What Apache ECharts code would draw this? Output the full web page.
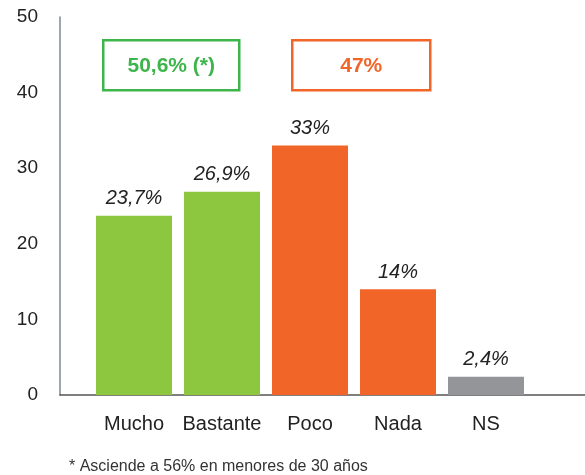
<!DOCTYPE html>
<html>
<head>
<meta charset="utf-8">
<script src="https://cdn.jsdelivr.net/npm/echarts@6/dist/echarts.min.js"></script>
<style>
  html, body { margin: 0; padding: 0; background: #fff; }
  #chart { width: 585px; height: 475px; }
</style>
</head>
<body>
<div id="chart"></div>
<script>
const categories = ['Mucho', 'Bastante', 'Poco', 'Nada', 'NS']
const values = [23.7, 26.9, 33, 14, 2.4]
const valueLabels = ['23,7%', '26,9%', '33%', '14%', '2,4%']
const barColors = ['#8dc63f', '#8dc63f', '#f26529', '#f26529', '#939598']
const yTicks = [0, 10, 20, 30, 40, 50]
const groupTotals = ['50,6% (*)', '47%']
const footnote = '* Asciende a 56% en menores de 30 años'

const font = "'Liberation Sans', Arial, sans-serif"
const chart = echarts.init(document.getElementById('chart'))

chart.setOption({
  backgroundColor: '#fff',
  animation: false,
  textStyle: { fontFamily: font },
  title: {
    text: footnote,
    left: 64,
    top: 454,
    textStyle: { fontSize: 16, fontWeight: 'normal', color: '#333', fontFamily: font }
  },
  grid: [
    { left: 60, right: 0, top: 17, bottom: 80 },
    { left: 90, right: 55, top: 17, bottom: 80 }
  ],
  xAxis: [
    {
      gridIndex: 0,
      type: 'value',
      min: 0,
      max: 1,
      axisLine: { show: true, lineStyle: { color: '#555', width: 1.5 } },
      axisTick: { show: false },
      axisLabel: { show: false },
      splitLine: { show: false }
    },
    {
      gridIndex: 1,
      type: 'category',
      data: categories,
      axisLine: { show: false },
      axisTick: { show: false },
      axisLabel: { interval: 0, margin: 19, fontSize: 20, color: '#222', fontFamily: font }
    }
  ],
  yAxis: [
    {
      gridIndex: 0,
      type: 'value',
      min: yTicks[0],
      max: yTicks[yTicks.length - 1],
      interval: 10,
      axisLine: { show: true, lineStyle: { color: '#7a8896', width: 1.5 } },
      axisTick: { show: false },
      splitLine: { show: false },
      axisLabel: { margin: 22, fontSize: 19, color: '#222', fontFamily: font }
    },
    {
      gridIndex: 1,
      type: 'value',
      min: yTicks[0],
      max: yTicks[yTicks.length - 1],
      show: false,
      splitLine: { show: false }
    }
  ],
  series: [
    {
      type: 'bar',
      xAxisIndex: 1,
      yAxisIndex: 1,
      barWidth: 76,
      data: values.map((v, i) => ({
        value: v,
        itemStyle: { color: barColors[i] },
        label: { formatter: valueLabels[i] }
      })),
      label: {
        show: true,
        position: 'top',
        distance: 7,
        fontSize: 20,
        fontStyle: 'italic',
        color: '#222',
        fontFamily: font
      }
    }
  ],
  graphic: [
    {
      type: 'group',
      left: 102,
      top: 39,
      children: [
        { type: 'rect', shape: { x: 0, y: 0, width: 136, height: 50 }, style: { fill: '#fff', stroke: '#3db54a', lineWidth: 2.5 } },
        { type: 'text', x: 68, y: 26, style: { text: groupTotals[0], fill: '#3db54a', font: "bold 21px " + font, textAlign: 'center', textVerticalAlign: 'middle' } }
      ]
    },
    {
      type: 'group',
      left: 291,
      top: 39,
      children: [
        { type: 'rect', shape: { x: 0, y: 0, width: 138, height: 50 }, style: { fill: '#fff', stroke: '#f26529', lineWidth: 2.5 } },
        { type: 'text', x: 69, y: 26, style: { text: groupTotals[1], fill: '#f26529', font: "bold 21px " + font, textAlign: 'center', textVerticalAlign: 'middle' } }
      ]
    }
  ]
})
</script>
</body>
</html>
